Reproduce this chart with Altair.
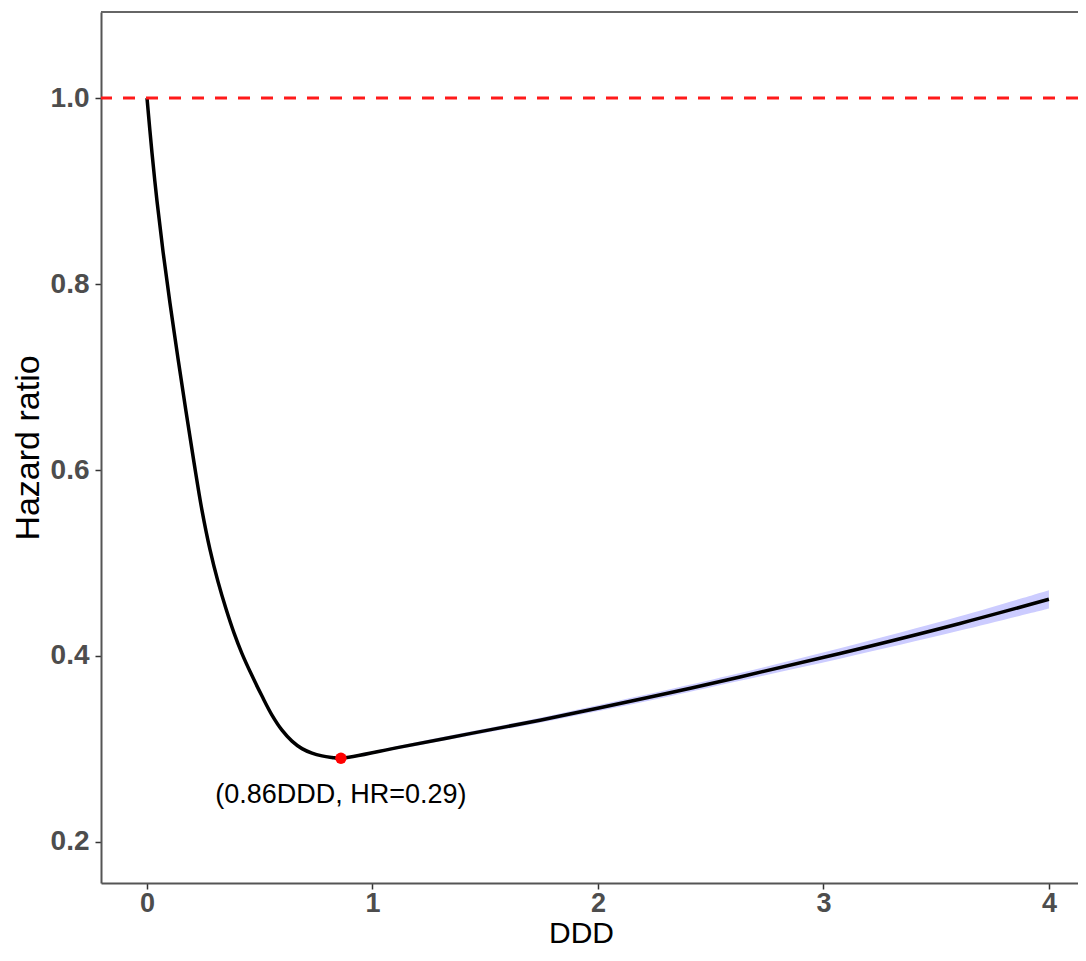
import altair as alt
import pandas as pd

# Curve (DDD vs hazard ratio)
ddd = [0.0000, 0.0222, 0.0443, 0.0710, 0.1020, 0.1375, 0.1729, 0.2084, 0.2439,
       0.2794, 0.3149, 0.3503, 0.3858, 0.4213, 0.4656, 0.5100, 0.5543, 0.5987,
       0.6430, 0.6874, 0.7317, 0.7761, 0.8204, 0.8559, 1.1220, 1.4324, 1.7428,
       2.0089, 2.3193, 2.6297, 3.0732, 3.6053, 4.0000]
hr = [1.0000, 0.9409, 0.8892, 0.8351, 0.7794, 0.7200, 0.6632, 0.6082, 0.5566,
      0.5144, 0.4800, 0.4508, 0.4249, 0.4026, 0.3789, 0.3569, 0.3365, 0.3203,
      0.3085, 0.3004, 0.2956, 0.2926, 0.2909, 0.2900, 0.3020, 0.3165, 0.3310,
      0.3444, 0.3605, 0.3775, 0.4027, 0.4350, 0.4610]
hr_lower = [1.0000, 0.9404, 0.8887, 0.8346, 0.7789, 0.7195, 0.6627, 0.6077, 0.5561,
            0.5139, 0.4795, 0.4503, 0.4244, 0.4021, 0.3784, 0.3563, 0.3358, 0.3195,
            0.3076, 0.2995, 0.2946, 0.2916, 0.2899, 0.2890, 0.3003, 0.3143, 0.3283,
            0.3412, 0.3568, 0.3733, 0.3970, 0.4273, 0.4512]
hr_upper = [1.0000, 0.9414, 0.8897, 0.8356, 0.7799, 0.7205, 0.6637, 0.6087, 0.5571,
            0.5149, 0.4805, 0.4513, 0.4254, 0.4031, 0.3794, 0.3575, 0.3372, 0.3211,
            0.3094, 0.3013, 0.2966, 0.2936, 0.2919, 0.2910, 0.3037, 0.3187, 0.3337,
            0.3476, 0.3642, 0.3817, 0.4084, 0.4427, 0.4708]

min_ddd = [0.86]
min_hr = [0.29]
label_y = [0.25]
label_text = ["(0.86DDD, HR=0.29)"]
ref_line = [1.0]

x_ticks = [0, 1, 2, 3, 4]
y_ticks = [0.2, 0.4, 0.6, 0.8, 1.0]

df = pd.DataFrame({"ddd": ddd, "hr": hr, "lower": hr_lower, "upper": hr_upper})
pt = pd.DataFrame({"ddd": min_ddd, "hr": min_hr, "ly": label_y, "label": label_text})
ref = pd.DataFrame({"ref": ref_line})

W, H = 977, 871
FONT = "Liberation Sans"

xscale = alt.Scale(domain=[-0.204, 4.129], nice=False, zero=False)
yscale = alt.Scale(domain=[0.1559, 1.0925], nice=False, zero=False)

xaxis = alt.Axis(values=x_ticks, format="d", title="DDD", grid=False,
                 titleY=65, titleX=480, titleBaseline="bottom", titleAlign="center",
                 titleFontSize=30, labelPadding=1, labelFontSize=27)
yaxis = alt.Axis(values=y_ticks, format=".1f", title="Hazard ratio", grid=False,
                 titleX=-73, titleBaseline="middle", titleAngle=270, titleAlign="center",
                 titleFontSize=34, labelPadding=6, labelFontSize=28)

base = alt.Chart(df)

band = base.mark_area(color="#ccccff", interpolate="catmull-rom").encode(
    x=alt.X("ddd:Q", scale=xscale, axis=xaxis),
    y=alt.Y("lower:Q", scale=yscale, axis=yaxis),
    y2="upper:Q",
)

line = base.mark_line(color="black", strokeWidth=3.5, interpolate="catmull-rom").encode(
    x=alt.X("ddd:Q", scale=xscale),
    y=alt.Y("hr:Q", scale=yscale),
)

hline = alt.Chart(ref).mark_rule(color="#ff1a1a", strokeDash=[12, 11], strokeWidth=3).encode(
    y=alt.Y("ref:Q", scale=yscale)
)

point = alt.Chart(pt).mark_point(filled=True, color="#ff0000", size=130, opacity=1).encode(
    x=alt.X("ddd:Q", scale=xscale),
    y=alt.Y("hr:Q", scale=yscale),
)

text = alt.Chart(pt).mark_text(font=FONT, fontSize=27, color="black",
                               baseline="middle", align="center").encode(
    x=alt.X("ddd:Q", scale=xscale),
    y=alt.Y("ly:Q", scale=yscale),
    text="label:N",
)

top_border = alt.Chart(ref).mark_rule(color="#666666", strokeWidth=2).encode(
    x=alt.value(0), x2=alt.value(W), y=alt.value(0)
)

chart = (
    alt.layer(band, line, hline, point, text, top_border)
    .properties(
        width=W,
        height=H,
        autosize=alt.AutoSizeParams(type="none"),
        padding={"left": 93, "top": 4, "right": 0, "bottom": 65},
        background="white",
    )
    .configure_view(stroke="transparent")
    .configure_axis(
        domainColor="#555555",
        domainWidth=2,
        tickColor="#333333",
        tickWidth=1.5,
        tickSize=6,
        labelFont=FONT,
        labelFontWeight="bold",
        labelColor="#4d4d4d",
        titleFont=FONT,
        titleFontWeight="normal",
        titleColor="black",
    )
)

chart.save("out.html", embed_options={"renderer": "svg", "actions": False})
